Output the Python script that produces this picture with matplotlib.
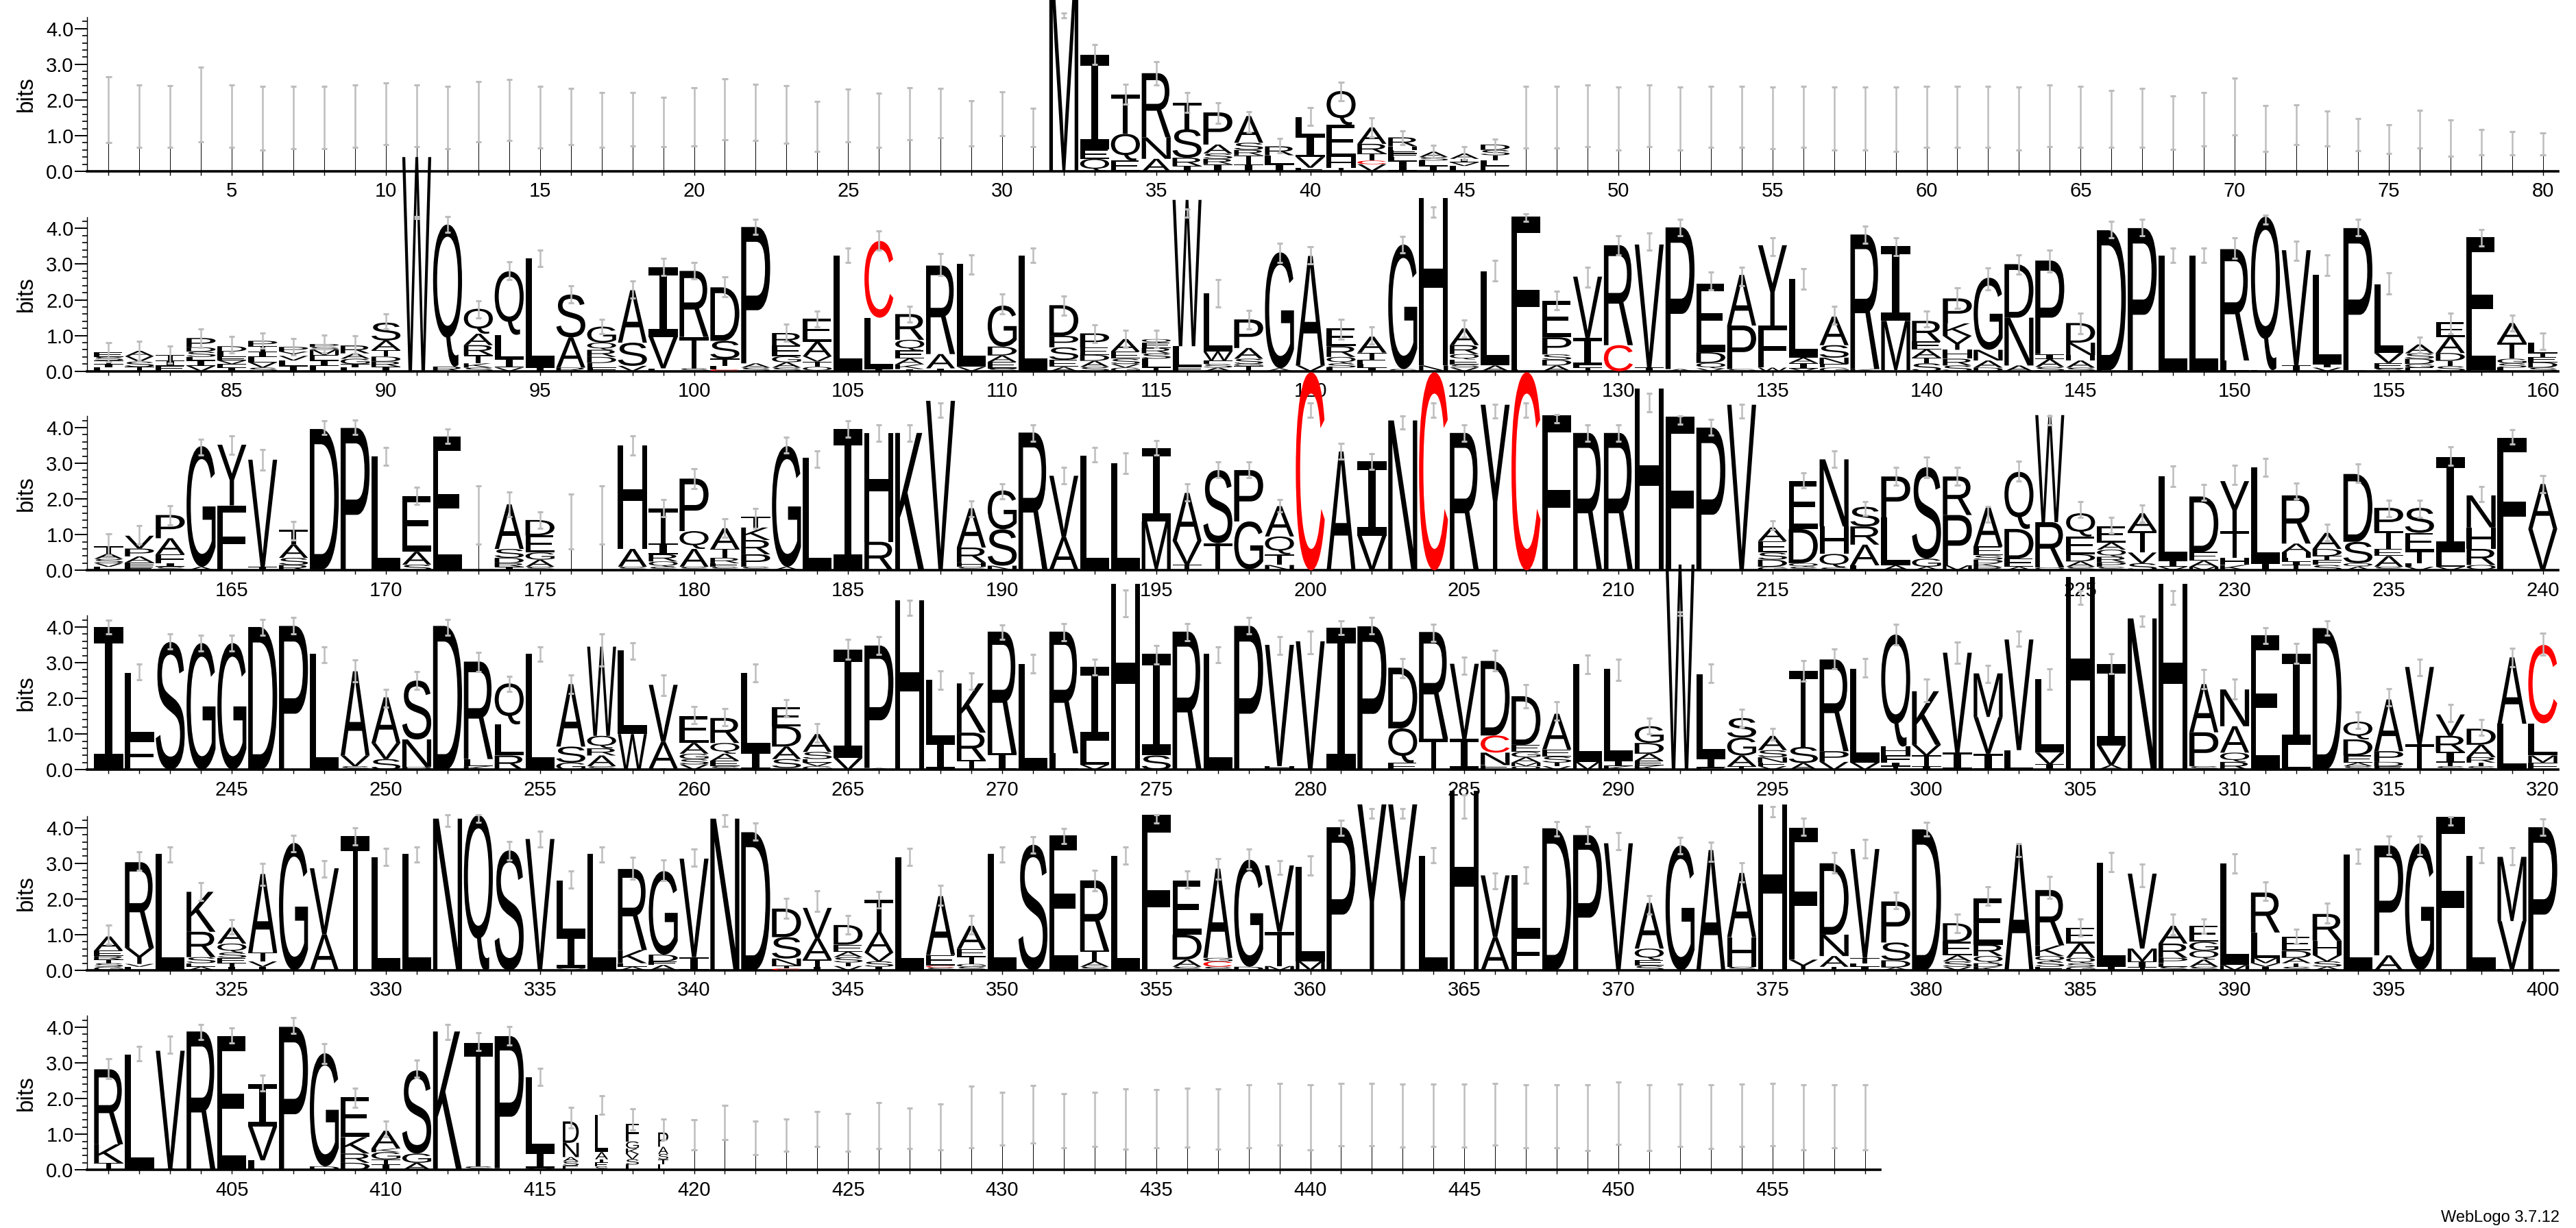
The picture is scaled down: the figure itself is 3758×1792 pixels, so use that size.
import matplotlib
matplotlib.use("Agg")
import matplotlib.pyplot as plt
import numpy as np
from matplotlib.textpath import TextPath
from matplotlib.font_manager import FontProperties
from matplotlib.patches import PathPatch
from matplotlib.transforms import Affine2D
from matplotlib.ticker import FixedLocator, MultipleLocator

plt.rcParams['font.family'] = ['Liberation Sans', 'DejaVu Sans']

# ---------------- data: letter stacks (bottom -> top, letter + height in bits) ----------------
row1_stacks = [
    "", "", "", "", "", "", "", "", "", "",
    "", "", "", "", "", "", "", "", "", "",
    "", "", "", "", "", "", "", "", "", "",
    "", "M5.2", "Q.35 E.26 I2.65", "E.3 Q.75 T1.1", "A.35 N.6 R1.8", "I.15 R.23 S.8 T.74",
    "I.2 R.15 S.15 A.25 P.9", "I.2 T.25 R.15 S.2 A.75", "I.2 L.25 R.25", "E.1 V.3 I.6 L.52",
    "T.1 H.3 E.9 Q.95", "V.2 C.1 T.2 R.27 A.46", "I.3 L.1 F.1 E.1 H.1 R.25", "I.15 L.15 S.1 A.15",
    "L.15 V.1 I.1 A.15", "E.15 L.15 T.15 S.15 D.15", "", "", "", "",
    "", "", "", "", "", "", "", "", "", "",
    "", "", "", "", "", "", "", "", "", "",
    "", "", "", "", "", "", "", "", "", "",
]
row2_stacks = [
    "L.1 I.1 T.1 S.1 E.13", "T.12 S.15 V.15 A.15", "E.15 I.15 T.15", "V.15 I.15 L.1 S.15 D.12 P.26",
    "I.1 F.1 V.1 E.1 L.15 D.15", "S.1 V.15 L.15 I.15 T.15 P.15", "I.15 L.15 V.13 Y.12 P.13",
    "L.15 I.15 E.15 M.15 S.08 P.08", "L.1 I.1 G.15 A.15 R.22", "I.13 R.14 D.14 T.18 A.27 S.5",
    "W6.0", "R.13 Q3.98", "S.1 K.12 T.23 R.28 A.32 Q.7", "V.1 I.25 L.67 Q1.78", "I.1 L3.06",
    "R.1 A.85 S1.2", "F.1 E.13 D.17 R.2 Q.2 G.45", "V.15 S.65 A1.47", "L.08 V.88 I1.95", "S.08 T.88 R1.85",
    "C.05 L.1 T.2 S.5 D1.5", "S.1 A.12 P3.82", "S.1 A.15 G.17 E.3 R.35", "Q.12 T.15 V.15 A.4 E.65", "L3.23",
    "I.05 L1.45 C2.15", "I.06 K.13 A.17 E.22 Q.3 R.72", "I.08 A.4 R2.48", "V.12 L2.88", "S.08 E.18 A.18 D.25 G1.15",
    "L3.23", "A.12 E.2 S.35 P.32 D.86", "S.12 A.17 D.17 E.2 P.4", "G.1 V.1 S.15 E.2 A.35",
    "T.1 L.25 S.15 R.15 E.15 Q.1", "F.12 L.58 W4.1", "A.1 S.1 F.1 W.25 L1.63", "T.15 G.05 S.15 A.3 P.8",
    "A.08 G3.25", "V.16 A3.07",
    "L.1 S.12 Q.18 R.3 E.5", "I.1 L.1 E.12 T.2 A.45", "S.06 G3.49", "N.16 H4.7", "V.1 S.08 E.15 Q.15 R.25 A.47",
    "A.16 L2.63", "L.06 F4.28", "A.16 D.16 S.15 P.48 E1.03", "T.1 L.06 I.77 V1.72", "C.73 R2.8",
    "I.1 V3.45", "A.06 P3.97", "V.08 Q.15 D.3 E1.92", "S.06 P1.22 A1.42", "W.1 F1.18 Y2.25",
    "V.08 I.15 A.15 L2.2", "G.1 E.1 N.18 S.35 A.8", "K.06 R3.77", "V.03 M1.38 I2.1", "S.22 T.16 A.23 E.22 R.58",
    "S.16 R.19 H.25 Y.39 K.35 P.7", "D.1 A.2 N.3 G2.02", "A.16 N1.34 D1.5", "S.12 A.22 I.14 P2.62",
    "S.1 A.2 H.15 N.35 D.55", "E.03 D3.92", "A.03 P3.98", "L3.23", "L3.23", "L.3 R3.12",
    "L.03 Q4.3", "I.16 V3.23", "V.1 I.1 L2.5", "A.03 P3.98", "S.08 E.15 V.28 L1.92",
    "E.1 G.1 D.15 S.15 A.25", "S.14 T.15 D.22 A.45 E.41", "D.03 E3.72", "L.1 S.12 G.13 T.45 A.55",
    "S.1 D.15 E.15 T.1 L.3",
]
row3_stacks = [
    "L.1 V.1 S.12 A.15 T.2", "E.1 F.12 A.17 P.22 V.36", "S.1 I.1 F.25 A.45 P.65", "A.1 G3.38", "F1.82 Y1.7",
    "I.1 V3.0", "R.15 S.2 A.38 T.4", "E.03 D3.93", "P3.99", "L3.2",
    "S.16 A.36 E1.56", "D.03 E3.72", "", "I.1 R.1 D.15 S.25 A1.25", "S.1 A.2 G.2 E.48 D.43",
    "", "", "S.1 A.5 H2.9", "S.1 Q.15 R.2 I.3 T.98", "S.1 A.5 Q.5 P1.47",
    "S.1 E.1 R.15 T.25 A.58", "S.1 P.35 R.4 K.35 T.3", "A.1 G3.38", "L3.15", "I3.96",
    "R.8 H3.05", "K3.85", "V4.75", "S.1 H.12 R.42 A1.1", "N.13 S1.02 G1.09",
    "A.03 R3.83", "I.03 A.9 V1.72", "L3.22", "I.03 L2.98", "V.03 M1.34 I2.05",
    "T.16 V.67 A1.34", "T.76 S2.05", "N.03 G1.34 P1.44", "N.15 T.3 Q.5 A.85", "C5.55",
    "A3.33", "V.97 I2.08", "N4.2", "C5.55", "R3.85", "Y4.64", "C5.55", "F4.35", "R3.85", "R3.85",
    "H5.1", "F4.3", "P4.0", "V4.64", "G.1 D.2 S.2 E.32 A.38",
    "S.1 Q.1 D.96 E1.34", "S.08 Q.38 H.77 N1.88", "L.14 A.58 R.51 S.55", "A.14 L1.34 P1.15", "A.1 G.23 S2.56",
    "M.14 P1.41 R1.08", "R.1 K.1 D.1 S.12 E.25 A1.1", "A.1 E.23 D.83 Q1.6", "Q.08 R1.27 W3.0",
    "S.1 A.15 D.2 E.5 Q.65", "S.1 P.13 R.15 Q.2 A.2 E.45", "S.2 V.3 T.6 A.5", "V.1 I.17 L2.36",
    "M.1 A.17 E.25 D1.55", "K.15 H.2 T.75 Y1.4",
    "I.2 L2.69", "T.15 I.1 L.1 H.15 A.25 R1.35", "S.15 F.15 T.1 D.2 A.45", "A.1 Q.1 S.6 D1.9",
    "S.1 A.3 E.2 T.5 P.65", "V.1 L.1 T.35 E.5 S.7", "V.1 L.4 I2.68", "Q.15 R.45 H.6 N.9", "F3.72", "V1.16 A1.26",
]
row4_stacks = [
    "I4.0", "F.86 L1.86", "S3.58", "G3.55", "G3.55", "D4.0", "P4.03", "L3.25", "S.1 V.3 A2.36", "S.3 V.45 A1.28",
    "P.08 N.77 S1.65", "D4.03", "K.1 L.2 R2.73", "R.4 L.87 Q1.15", "L3.25", "G.2 S.45 A1.75",
    "S.1 A.3 R.2 Q.35 W2.5", "W1.0 L2.35", "W.04 A.74 V1.6", "V.15 S.15 G.15 A.3 E.75",
    "S.1 E.15 A.2 Q.3 R.7", "I.5 L2.22", "G.05 S.25 A.35 D.57 E.53", "G.1 V.1 E.1 S.2 A.5", "V.33 I3.03",
    "A.05 P3.43", "H4.75", "I.78 L1.74", "T.27 R.77 K1.38", "I.46 R3.41",
    "L2.97", "L.46 R3.41", "V.14 L.68 I2.06", "H5.2", "S.4 I2.85", "R3.87", "L3.25", "P4.03", "H.1 V3.4", "V3.6",
    "I3.99", "P4.02", "E.19 Q.97 D1.7", "T.87 R2.99", "I.87 V2.1", "E.13 N.35 C.48 D2.09",
    "Q.1 M.1 A.15 G.15 E.2 D1.36", "V.1 T.1 S.17 E.2 A1.0", "M.22 L2.74", "K.1 I.16 L2.57",
    "K.12 E.13 A.2 D.3 G.47", "W5.75", "E.06 I.26 L2.35", "T.1 A.3 G.5 S.55", "V.1 E.1 N.15 S.2 A.4",
    "A.19 S.45 T2.13", "V.22 P.3 R2.57", "V.2 L2.63", "T.1 I.1 F.2 H.25 Q3.14", "I.1 T.3 V.3 K1.5",
    "I.48 V2.8", "I.45 V1.03 M1.22", "L.55 V3.1", "I.15 V.33 L2.06", "H5.4", "A.13 V.55 I2.28", "N4.24", "H5.2",
    "S.1 P.95 A1.35", "R.22 Q.26 A.74 N1.03",
    "E3.76", "L.7 I2.55", "D3.97", "S.1 A.1 E.2 D.45 Q.5", "E.1 D.12 P.3 A1.45", "T.71 V2.17",
    "S.1 T.1 I.3 R.45 V.6", "S.1 T.1 R.15 A.35 D.45", "F.03 L1.26 A1.86", "F.2 M.2 L.9 C2.2",
]
row5_stacks = [
    "G.1 S.1 T.1 R.1 E.15 A.4", "L.1 V.08 Y.45 R2.4", "L3.26", "A.1 E.1 S.17 R.71 K1.12",
    "I.1 T.1 E.15 S.15 Q.25 A.45", "I.1 V.15 T.25 A2.2", "G3.57", "A1.01 V1.85", "T3.76", "L3.17",
    "L3.26", "N4.25", "Q4.35", "S3.36", "V3.68", "V.05 I.95 L1.52", "L3.26", "A.1 E.1 K.37 R2.27",
    "A.15 E.1 D.19 G2.34", "I.37 V2.76",
    "N4.25", "D3.87", "C.05 T.08 N.2 S.6 D.8", "I.1 T.2 A.6 V.85", "V.12 T.1 S.15 A.15 E.2 D.55",
    "I.1 S.15 V.25 A.58 T.9", "L3.17", "S.08 C.05 E.3 A1.65", "S.1 G.08 T.2 E.22 A.65", "L3.26",
    "S3.52", "E3.78", "S.1 A.15 T.3 R1.97", "L3.2", "F4.35", "S.1 A.2 D.7 E1.52", "S.1 C.15 G.1 A2.5",
    "D.1 G3.0", "M.12 T.96 V1.86", "M.25 L2.65",
    "P4.01", "Y4.65", "Y4.65", "L3.21", "H5.04", "A.93 V1.73", "F1.0 L1.66", "D3.98", "P3.79", "V3.56",
    "S.13 E.16 Q.32 A1.28", "G3.5", "A3.37", "S.1 H.83 A1.8", "H4.65", "Y.3 F3.7", "T.1 A.3 N.6 D2.0",
    "I.1 L.1 T.15 V3.05", "A.08 D.2 S.5 P1.15", "D3.95",
    "V.1 S.15 A.17 E.38 D.52", "K.1 D.1 Q.2 R.32 E1.3", "A3.56", "E.1 S.15 Q.15 K.3 R1.55",
    "G.1 S.1 Q.15 A.4 E.45", "I.1 L2.92", "T.08 I.17 M.36 V2.1", "S.1 E.1 P.15 R.4 A.5",
    "S.1 A.2 Q.25 G.25 E.45", "M.15 L2.85",
    "I.1 V.1 M.15 L.71 R1.12", "S.1 T.1 A.15 D.2 E.4", "A.1 S.15 V.18 H.4 R.75", "L3.24", "A.42 P3.08",
    "G3.56", "F4.3", "L3.21", "L.03 V1.35 M1.8", "P4.01",
]
row6_stacks = [
    "T.2 K.52 R2.1", "L3.24", "I.04 V3.3", "R3.88", "E3.75", "L.27 V.95 I1.18", "P4.01", "D.1 G3.17",
    "D.2 R.26 K.46 E1.13", "I.15 T.15 G.2 K.1 A.5",
    "A.2 G.26 S2.33", "K3.88", "S.1 T3.46", "L.05 P3.7", "V.05 I.45 L2.09", "E.12 S.12 A.12 N.4 D.6",
    "S.1 E.1 I.1 A.2 L1.05", "L.15 S.15 V.15 K.15 G.2 F.5", "L.15 I.15 S.15 A.2 P.4", "",
    "", "", "", "", "", "", "", "", "", "",
    "", "", "", "", "", "", "", "", "", "",
    "", "", "", "", "", "", "", "", "", "",
    "", "", "", "", "", "", "", "",
]

# stack width fraction (sequence occupancy) where visibly narrower than full
occupancy = {416: 0.55, 417: 0.45, 418: 0.45, 419: 0.35}

# ---------------- data: error bars (lower, upper) in bits ----------------
row1_err_lo = [.80, .68, .67, .82, .68, .59, .63, .63, .68, .74, .70, .63, .82, .86, .66, .74, .68, .72, .70, .72,
               .89, .86, .78, .55, .82, .68, .88, .95, .72, .99, .70,
               4.31, 3.0, 1.88, 2.42, 1.66, 1.34, 1.09, .51, 1.29, 1.98, .96, .75, .38, .32, .54,
               .66, .66, .70, .59, .70, .59, .67, .67, .63, .67, .59, .59, .56, .67, .67, .67, .59, .70, .67, .68,
               .68, .62, .72, 1.01, .56, .75, .72, .57, .49, .65, .42, .47, .47, .47]
row1_err_hi = [2.65, 2.42, 2.40, 2.91, 2.42, 2.38, 2.38, 2.38, 2.42, 2.47, 2.42, 2.38, 2.51, 2.57, 2.38, 2.32,
               2.20, 2.20, 2.07, 2.34, 2.59, 2.43, 2.40, 1.96, 2.30, 2.19, 2.34, 2.32, 1.98, 2.22, 1.76,
               4.44, 3.55, 2.44, 3.08, 2.2, 1.92, 1.67, .93, 1.79, 2.49, 1.5, 1.14, .73, .7, .91,
               2.39, 2.39, 2.42, 2.37, 2.41, 2.37, 2.39, 2.39, 2.37, 2.39, 2.37, 2.37, 2.37, 2.39, 2.39, 2.39,
               2.37, 2.41, 2.39, 2.27, 2.33, 2.12, 2.20, 2.62, 1.85, 1.87, 1.69, 1.47, 1.30, 1.70, 1.44, 1.18,
               1.11, 1.08]
row2_err_lo = [.26, .29, .22, .67, .51, .64, .45, .51, .48, 1.18,
               4.28, 3.9, 1.5, 2.56, 2.94, 1.92, 1.05, 2.04, 2.68, 2.59,
               2.08, 3.83, .83, 1.25, 3.04, 3.39, 1.37, 2.68, 2.72, 1.6,
               3.04, 1.57, .8, .67, .67, 4.31, 1.79, 1.18, 3.04, 3.0,
               .89, .77, 3.32, 4.31, .96, 2.52, 4.19, 1.73, 2.36, 3.26,
               3.39, 3.8, 2.27, 2.4, 3.23, 2.3, 1.31, 3.58, 3.23, 1.25,
               1.76, 2.27, 2.72, 2.78, 1.05, 3.74, 3.8, 3.04, 3.04, 3.16,
               4.12, 3.1, 2.68, 3.8, 2.17, .51, 1.05, 3.51, 1.12, .61]
row2_err_hi = [.8, .84, .7, 1.18, .97, 1.07, .91, 1.01, .99, 1.6,
               4.34, 4.33, 1.98, 3.07, 3.39, 2.4, 1.45, 2.52, 3.16, 3.05,
               2.65, 4.25, 1.31, 1.69, 3.45, 3.93, 1.82, 3.29, 3.26, 2.17,
               3.45, 2.11, 1.3, 1.15, 1.15, 4.54, 2.56, 1.71, 3.58, 3.48,
               1.45, 1.25, 3.77, 4.6, 1.44, 3.1, 4.41, 2.24, 2.92, 3.79,
               3.87, 4.25, 2.78, 2.91, 3.74, 2.88, 1.82, 4.06, 3.74, 1.69,
               2.33, 2.9, 3.26, 3.39, 1.63, 4.19, 4.25, 3.45, 3.45, 3.74,
               4.38, 3.64, 3.26, 4.25, 2.75, .96, 1.63, 3.96, 1.57, 1.07]
row3_err_lo = [.42, .73, 1.28, 3.23, 3.26, 2.81, .86, 3.8, 3.8, 2.94,
               1.85, 3.55, .73, 1.5, 1.18, .61, .73, 3.23, 1.5, 2.3,
               .93, 1.18, 3.29, 2.88, 3.74, 3.62, 3.62, 4.28, 1.5, 2.01,
               3.62, 2.43, 3.04, 2.72, 3.23, 1.95, 2.59, 2.59, 1.64, 4.29,
               3.11, 2.82, 3.97, 4.29, 3.62, 4.26, 4.29, 4.13, 3.62, 3.62,
               4.45, 4.1, 3.78, 4.26, 1.13, 2.31, 2.89, 1.55, 2.38, 2.6,
               2.38, 1.35, 2.5, 4.07, 1.48, 1.04, 1.35, 2.35, 1.96, 2.41,
               2.63, 2.0, .84, 2.47, 1.51, 1.48, 2.95, 1.93, 3.53, 2.18]
row3_err_hi = [1.02, 1.25, 1.82, 3.67, 3.77, 3.39, 1.37, 4.19, 4.22, 3.45,
               2.33, 3.96, 2.36, 2.2, 1.63, 2.14, 2.36, 3.77, 1.98, 2.84,
               1.44, 1.73, 3.74, 3.35, 4.19, 4.07, 4.07, 4.7, 1.95, 2.43,
               4.07, 2.88, 3.45, 3.29, 3.64, 2.43, 3.04, 3.04, 1.99, 4.7,
               3.56, 3.27, 4.33, 4.7, 4.07, 4.65, 4.7, 4.36, 4.07, 4.07,
               4.96, 4.33, 4.23, 4.65, 1.39, 2.73, 3.34, 1.93, 2.89, 3.18,
               2.89, 1.8, 3.05, 4.33, 1.93, 1.48, 1.83, 2.92, 2.41, 2.95,
               3.14, 2.44, 1.29, 2.98, 1.96, 1.96, 3.46, 2.35, 3.94, 2.66]
row4_err_lo = [3.8, 2.52, 3.39, 3.32, 3.32, 3.77, 3.81, 3.0, 2.46, 1.75,
               2.26, 3.77, 2.75, 2.2, 3.04, 2.14, 2.91, 3.1, 2.07, 1.3,
               1.23, 2.46, 1.49, .78, 3.1, 3.23, 4.32, 2.26, 2.26, 3.65,
               2.71, 3.61, 2.65, 4.29, 2.97, 3.61, 3.0, 3.81, 3.23, 3.25,
               3.79, 3.81, 2.57, 3.6, 2.67, 2.77, 1.74, 1.38, 2.7, 2.51,
               1.0, 4.32, 2.44, 1.19, .84, 2.48, 2.83, 2.6, 3.5, 1.9,
               2.99, 2.44, 3.47, 2.25, 4.63, 2.7, 4.02, 4.63, 2.28, 1.99,
               3.54, 2.99, 3.76, 1.16, 1.8, 2.64, 1.35, .96, 2.89, 3.22]
row4_err_hi = [4.19, 2.97, 3.8, 3.77, 3.77, 4.22, 4.26, 3.45, 3.07, 2.26,
               2.75, 4.22, 3.29, 2.62, 3.45, 2.65, 3.8, 3.55, 2.65, 1.78,
               1.72, 2.97, 1.97, 1.3, 3.65, 3.74, 4.74, 2.78, 2.71, 4.06,
               3.23, 4.1, 3.1, 5.03, 3.49, 4.1, 3.45, 4.26, 3.74, 3.89,
               4.18, 4.26, 3.12, 4.08, 3.15, 3.34, 2.38, 1.9, 3.22, 3.09,
               1.45, 4.42, 2.96, 1.7, 1.16, 3.05, 3.38, 3.12, 4.08, 2.54,
               3.57, 2.93, 3.89, 2.83, 5.02, 3.25, 4.31, 5.02, 2.8, 2.54,
               3.99, 3.54, 4.18, 1.61, 2.28, 3.09, 1.83, 1.41, 3.41, 3.83]
row5_err_lo = [.73, 2.81, 3.04, 1.95, 1.01, 2.39, 3.33, 2.62, 3.52, 2.94,
               3.04, 4.03, 4.15, 3.1, 3.45, 2.3, 3.04, 2.56, 2.52, 2.91,
               4.03, 3.65, 1.46, 1.66, 1.01, 1.75, 2.94, 1.82, 1.01, 3.04,
               3.29, 3.55, 2.23, 2.97, 4.13, 2.3, 2.56, 2.84, 2.68, 2.66,
               3.79, 4.27, 4.27, 3.02, 4.27, 2.28, 2.44, 3.76, 3.56, 3.37,
               1.57, 3.27, 3.05, 2.47, 4.3, 3.79, 2.73, 3.15, 1.73, 3.76,
               1.06, 1.83, 3.18, 2.02, .96, 2.76, 2.34, 1.0, 1.03, 2.73,
               1.96, .74, 1.32, 2.99, 3.24, 3.24, 4.08, 3.02, 2.95, 3.79]
row5_err_hi = [1.27, 3.33, 3.45, 2.46, 1.43, 3.0, 3.78, 3.07, 4.0, 3.42,
               3.45, 4.35, 4.35, 3.61, 3.9, 2.78, 3.45, 3.17, 3.1, 3.39,
               4.35, 4.13, 2.01, 2.23, 1.53, 2.2, 3.42, 2.39, 1.53, 3.45,
               3.74, 3.97, 2.81, 3.45, 4.35, 2.78, 3.13, 3.39, 3.07, 3.21,
               4.21, 4.53, 4.53, 3.43, 4.91, 2.73, 2.89, 4.17, 4.04, 3.85,
               2.09, 3.72, 3.6, 3.02, 4.59, 4.27, 3.31, 3.66, 2.18, 4.14,
               1.57, 2.34, 3.56, 2.63, 1.44, 3.31, 2.98, 1.57, 1.44, 3.27,
               2.47, 1.16, 1.89, 3.4, 3.76, 3.76, 4.3, 3.43, 3.43, 4.24]
row6_err_lo = [2.56, 3.05, 3.27, 3.66, 3.56, 2.21, 3.82, 2.98, 1.75, .92,
               2.59, 3.66, 3.34, 3.5, 2.37, 1.17, 1.56, 1.11, .85, .56,
               .85, .43, .53, .66, .52, .61, .61, .56, .62, .7,
               .75, .62, .66, .59, .62, .64, .59, .62, .69, .56,
               .68, .68, .64, .66, .64, .7, .62, .62, .54, .72,
               .54, .66, .6, .66, .68, .56, .62, .56]
row6_err_hi = [3.11, 3.46, 3.75, 4.08, 3.98, 2.66, 4.27, 3.53, 2.3, 1.37,
               3.08, 4.08, 3.85, 4.01, 2.85, 1.75, 2.08, 1.72, 1.43, 1.4,
               1.82, 1.37, 1.43, 1.64, 1.58, 1.88, 1.73, 1.85, 2.35, 2.18,
               2.37, 2.14, 2.18, 2.28, 2.25, 2.3, 2.28, 2.39, 2.42, 2.39,
               2.42, 2.42, 2.41, 2.41, 2.41, 2.43, 2.38, 2.39, 2.38, 2.46,
               2.38, 2.41, 2.38, 2.41, 2.43, 2.38, 2.39, 2.39]

rows = [
    (row1_stacks, row1_err_lo, row1_err_hi),
    (row2_stacks, row2_err_lo, row2_err_hi),
    (row3_stacks, row3_err_lo, row3_err_hi),
    (row4_stacks, row4_err_lo, row4_err_hi),
    (row5_stacks, row5_err_lo, row5_err_hi),
    (row6_stacks, row6_err_lo, row6_err_hi),
]
for st, lo, hi in rows:
    assert len(st) == len(lo) == len(hi), (len(st), len(lo), len(hi))

# ---------------- style / layout ----------------
W_PX, H_PX = 3758, 1792
PX_PER_POS = 44.95
PX_PER_BIT = 52.08
LEFT_PX = 127
BASELINES_PX = [250, 541.7, 832.3, 1123.3, 1416, 1707.3]
YMAX = 4.32
LETTER_W = 0.94
GRAY = '#bdbdbd'
COLORS = {'C': '#ff0000'}

FONT = FontProperties(family=['Liberation Sans', 'DejaVu Sans'])
# the logo's "I" carries cross-bars, as in a monospace face
FONT_I = FontProperties(family=['DejaVu Sans Mono', 'Liberation Mono'])
_glyph_cache = {}


def glyph(ch):
    if ch not in _glyph_cache:
        tp = TextPath((0, 0), ch, size=100, prop=FONT_I if ch == 'I' else FONT)
        _glyph_cache[ch] = (tp, tp.get_extents())
    return _glyph_cache[ch]


def draw_letter(ax, ch, xc, y0, h, w):
    tp, ext = glyph(ch)
    tr = (Affine2D().translate(-ext.x0, -ext.y0)
          .scale(w / ext.width, h / ext.height)
          .translate(xc - w / 2.0, y0))
    path = tr.transform_path(tp)
    ax.add_patch(PathPatch(path, facecolor=COLORS.get(ch, 'black'), edgecolor='none',
                           lw=0, transform=ax.transData, clip_on=False, zorder=3))


def parse(s):
    return [(tok[0], float(tok[1:])) for tok in s.split()]


fig = plt.figure(figsize=(W_PX / 100, H_PX / 100), dpi=100)

for r, (stacks, elo, ehi) in enumerate(rows):
    n = len(stacks)
    start = 80 * r
    x0, x1 = start + 0.3, start + n + 0.5
    base = BASELINES_PX[r]
    ax = fig.add_axes([LEFT_PX / W_PX, 1 - base / H_PX,
                       (x1 - x0) * PX_PER_POS / W_PX, YMAX * PX_PER_BIT / H_PX])
    ax.set_xlim(x0, x1)
    ax.set_ylim(0, YMAX)
    ax.patch.set_alpha(0)
    for s in ('top', 'right'):
        ax.spines[s].set_visible(False)
    ax.spines['bottom'].set_linewidth(2.6)
    ax.spines['left'].set_linewidth(1.0)

    pos = np.arange(start + 1, start + n + 1)
    ax.xaxis.set_major_locator(FixedLocator([p for p in pos if p % 5 == 0]))
    ax.xaxis.set_minor_locator(FixedLocator(list(pos)))
    ax.xaxis.set_major_formatter(plt.FuncFormatter(lambda v, _: f"{int(round(v))}"))
    ax.tick_params(axis='x', which='both', direction='out', length=4, width=1.0, labelsize=21, pad=7)
    ax.yaxis.set_major_locator(FixedLocator([0, 1, 2, 3, 4]))
    ax.yaxis.set_minor_locator(MultipleLocator(0.2))
    ax.yaxis.set_major_formatter(plt.FuncFormatter(lambda v, _: f"{v:.1f}"))
    ax.tick_params(axis='y', which='major', direction='out', length=13, width=1.4, labelsize=21, pad=1)
    ax.tick_params(axis='y', which='minor', direction='out', length=5, width=1.2)

    gap_x, gap_h = [], []
    for k, s in enumerate(stacks):
        p = start + k + 1
        if not s:
            gap_x.append(p)
            gap_h.append((elo[k] + ehi[k]) / 2.0)
            continue
        w = LETTER_W * occupancy.get(p, 1.0)
        y = 0.0
        for ch, h in parse(s):
            draw_letter(ax, ch, p, y, h, w)
            y += h
    if gap_x:
        ax.vlines(gap_x, 0, gap_h, colors='black', lw=0.7, zorder=2)

    ax.vlines(pos, elo, ehi, colors=GRAY, lw=1.8, zorder=5, clip_on=False)
    ax.hlines(elo, pos - 0.09, pos + 0.09, colors=GRAY, lw=2.2, zorder=5, clip_on=False)
    ax.hlines(ehi, pos - 0.09, pos + 0.09, colors=GRAY, lw=2.2, zorder=5, clip_on=False)

    fig.text(38 / W_PX, 1 - (base - 2.16 * PX_PER_BIT) / H_PX, 'bits', rotation=90,
             ha='center', va='center', fontsize=24)

fig.text(3734 / W_PX, 1 - 1777 / H_PX, 'WebLogo 3.7.12', ha='right', va='center', fontsize=17)

fig.savefig('out.png', dpi=100)
